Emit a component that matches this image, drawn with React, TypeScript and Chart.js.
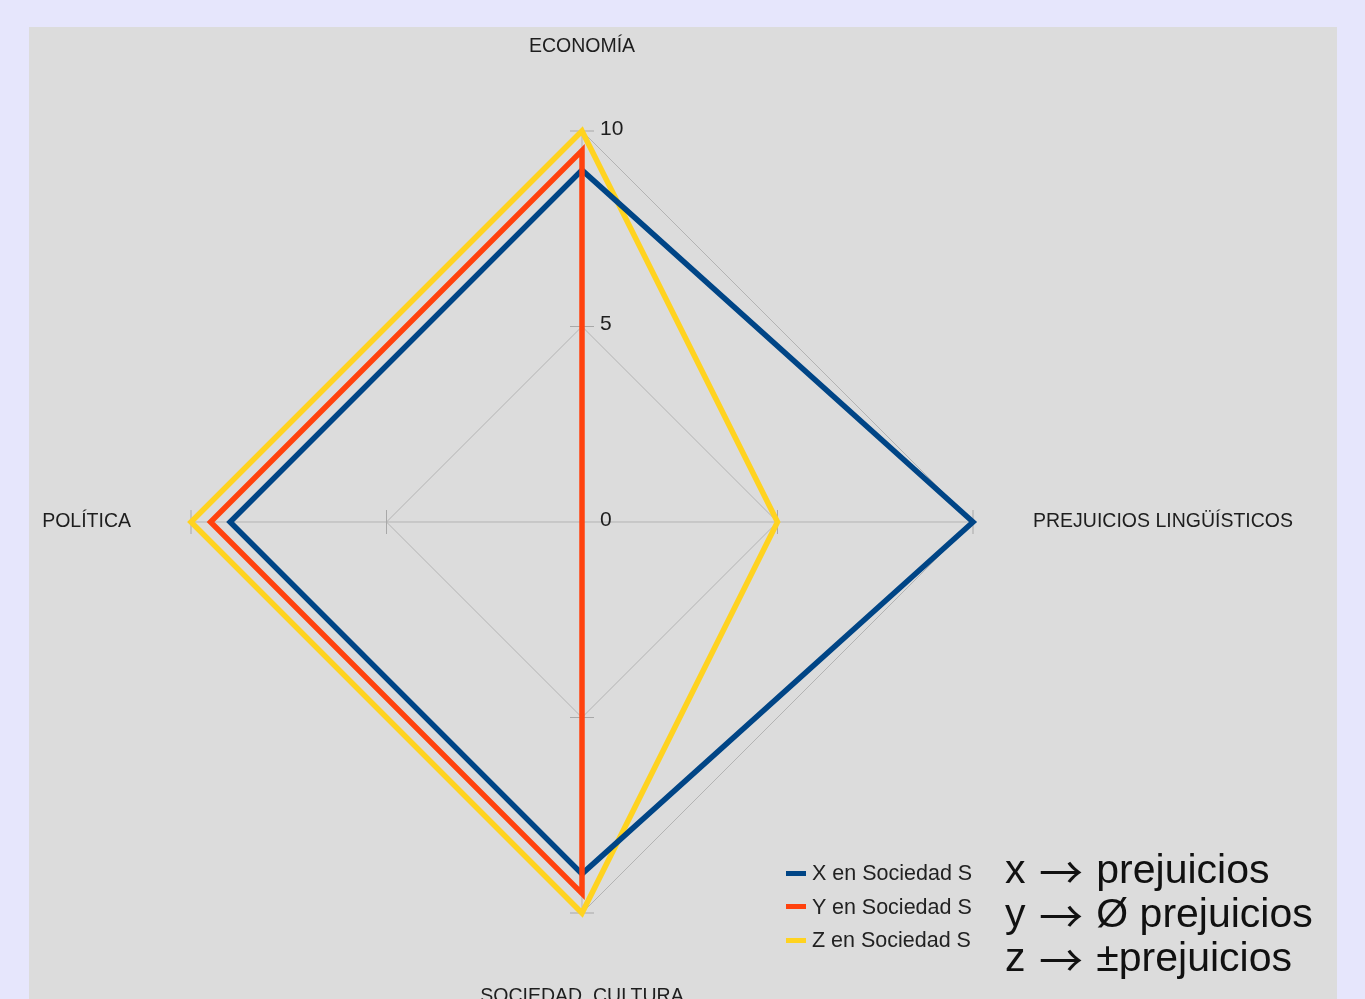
import React, { useEffect, useRef } from "react";
import { Chart, registerables } from "chart.js";

Chart.register(...registerables);

// ---- data ----
const categories = ["ECONOMÍA", "PREJUICIOS LINGÜÍSTICOS", "SOCIEDAD, CULTURA", "POLÍTICA"];
const seriesLabels = ["X en Sociedad S", "Y en Sociedad S", "Z en Sociedad S"];
const seriesColors = ["#004586", "#ff420e", "#ffd320"];
const xValues = [9, 10, 9, 9];
const yValues = [9.5, 0, 9.5, 9.5];
const zValues = [10, 5, 10, 10];
const tickLabels = ["0", "5", "10"];
const notes = ["x → prejuicios", "y → Ø prejuicios", "z → ±prejuicios"];

const FONT = "'Liberation Sans', Arial, sans-serif";

const radarDecor = {
  id: "radarDecor",
  beforeDatasetsDraw(chart: any) {
    const s = chart.scales.r;
    const ctx = chart.ctx;
    ctx.save();
    ctx.strokeStyle = "#a8a8a8";
    ctx.lineWidth = 1;
    for (let i = 0; i < categories.length; i++) {
      const ang = s.getIndexAngle(i) - Math.PI / 2;
      const px = -Math.sin(ang);
      const py = Math.cos(ang);
      s.ticks.forEach((t: any) => {
        if (t.value === 0) return;
        const p = s.getPointPosition(i, s.getDistanceFromCenterForValue(t.value));
        ctx.beginPath();
        ctx.moveTo(p.x - px * 12, p.y - py * 12);
        ctx.lineTo(p.x + px * 12, p.y + py * 12);
        ctx.stroke();
      });
    }
    ctx.restore();
  },
  afterDraw(chart: any) {
    const s = chart.scales.r;
    const ctx = chart.ctx;
    ctx.save();
    // tick labels to the right of the vertical axis
    ctx.fillStyle = "#1e1e1e";
    ctx.font = `21px ${FONT}`;
    ctx.textAlign = "left";
    ctx.textBaseline = "middle";
    s.ticks.forEach((t: any, k: number) => {
      const d = s.getDistanceFromCenterForValue(t.value);
      ctx.fillText(tickLabels[k] ?? String(t.value), s.xCenter + 18, s.yCenter - d - 2);
    });
    // category labels
    ctx.font = `19.5px ${FONT}`;
    for (let i = 0; i < categories.length; i++) {
      const deg = Math.round((s.getIndexAngle(i) * 180) / Math.PI) % 360;
      const gap = deg === 0 || deg === 180 ? 84 : 60;
      const p = s.getPointPosition(i, s.drawingArea + gap);
      ctx.textAlign = deg === 0 || deg === 180 ? "center" : deg < 180 ? "left" : "right";
      ctx.textBaseline = "middle";
      ctx.fillText(categories[i], p.x, p.y);
    }
    ctx.restore();
  },
};

export default function App() {
  const canvasRef = useRef<HTMLCanvasElement | null>(null);

  useEffect(() => {
    const canvas = canvasRef.current;
    if (!canvas) return;
    const values = [xValues, yValues, zValues];
    const orders = [1, 0, 2];
    const chart = new Chart(canvas, {
      type: "radar",
      data: {
        labels: categories,
        datasets: seriesLabels.map((label, i) => ({
          label,
          data: values[i],
          borderColor: seriesColors[i],
          backgroundColor: seriesColors[i],
          borderWidth: 5.5,
          fill: false,
          pointRadius: 0,
          pointHoverRadius: 0,
          tension: 0,
          order: orders[i],
        })),
      },
      options: {
        responsive: false,
        animation: false,
        devicePixelRatio: 1,
        layout: { padding: { top: 131, bottom: 86, left: 0, right: 201 } },
        plugins: {
          legend: { display: false },
          tooltip: { enabled: false },
        },
        scales: {
          r: {
            min: 0,
            max: 10,
            ticks: { stepSize: 5, display: false },
            pointLabels: { display: false },
            grid: { color: "#b3b3b3", lineWidth: 1 },
            angleLines: { color: "#b3b3b3", lineWidth: 1 },
          },
        },
      } as any,
      plugins: [radarDecor],
    });
    return () => chart.destroy();
  }, []);

  return (
    <div
      style={{
        position: "fixed",
        left: 0,
        top: 0,
        width: 1365,
        height: 999,
        overflow: "hidden",
        background: "#e6e6fc",
        fontFamily: FONT,
      }}
    >
      <div
        style={{
          position: "absolute",
          left: 29,
          top: 27,
          width: 1308,
          height: 990,
          background: "#dcdcdc",
        }}
      />
      <canvas
        ref={canvasRef}
        width={1365}
        height={999}
        style={{ position: "absolute", left: 0, top: 0, width: 1365, height: 999, display: "block" }}
      />
      {seriesLabels.map((label, i) => (
        <div
          key={label}
          style={{
            position: "absolute",
            left: 786,
            top: 861 + 33.5 * i,
            height: 24,
            display: "flex",
            alignItems: "center",
            whiteSpace: "nowrap",
            color: "#222",
            fontSize: 21.5,
            lineHeight: "24px",
          }}
        >
          <span
            style={{
              display: "inline-block",
              width: 20,
              height: 5,
              background: seriesColors[i],
              marginRight: 6,
            }}
          />
          <span>{label}</span>
        </div>
      ))}
      {notes.map((n, i) => {
        const [lhs, rhs] = n.split("→");
        return (
          <div
            key={n}
            style={{
              position: "absolute",
              left: 1005,
              top: 847 + 44 * i,
              fontSize: 41,
              lineHeight: "44px",
              whiteSpace: "nowrap",
              color: "#111",
            }}
          >
            <span>{lhs}</span>
            <span
              style={{
                fontFamily: "'Noto Sans CJK JP', 'DejaVu Sans', sans-serif",
                fontSize: 44,
                lineHeight: "0",
                position: "relative",
                top: 6,
                margin: "0 2px",
              }}
            >
              →
            </span>
            <span>{rhs}</span>
          </div>
        );
      })}
    </div>
  );
}
